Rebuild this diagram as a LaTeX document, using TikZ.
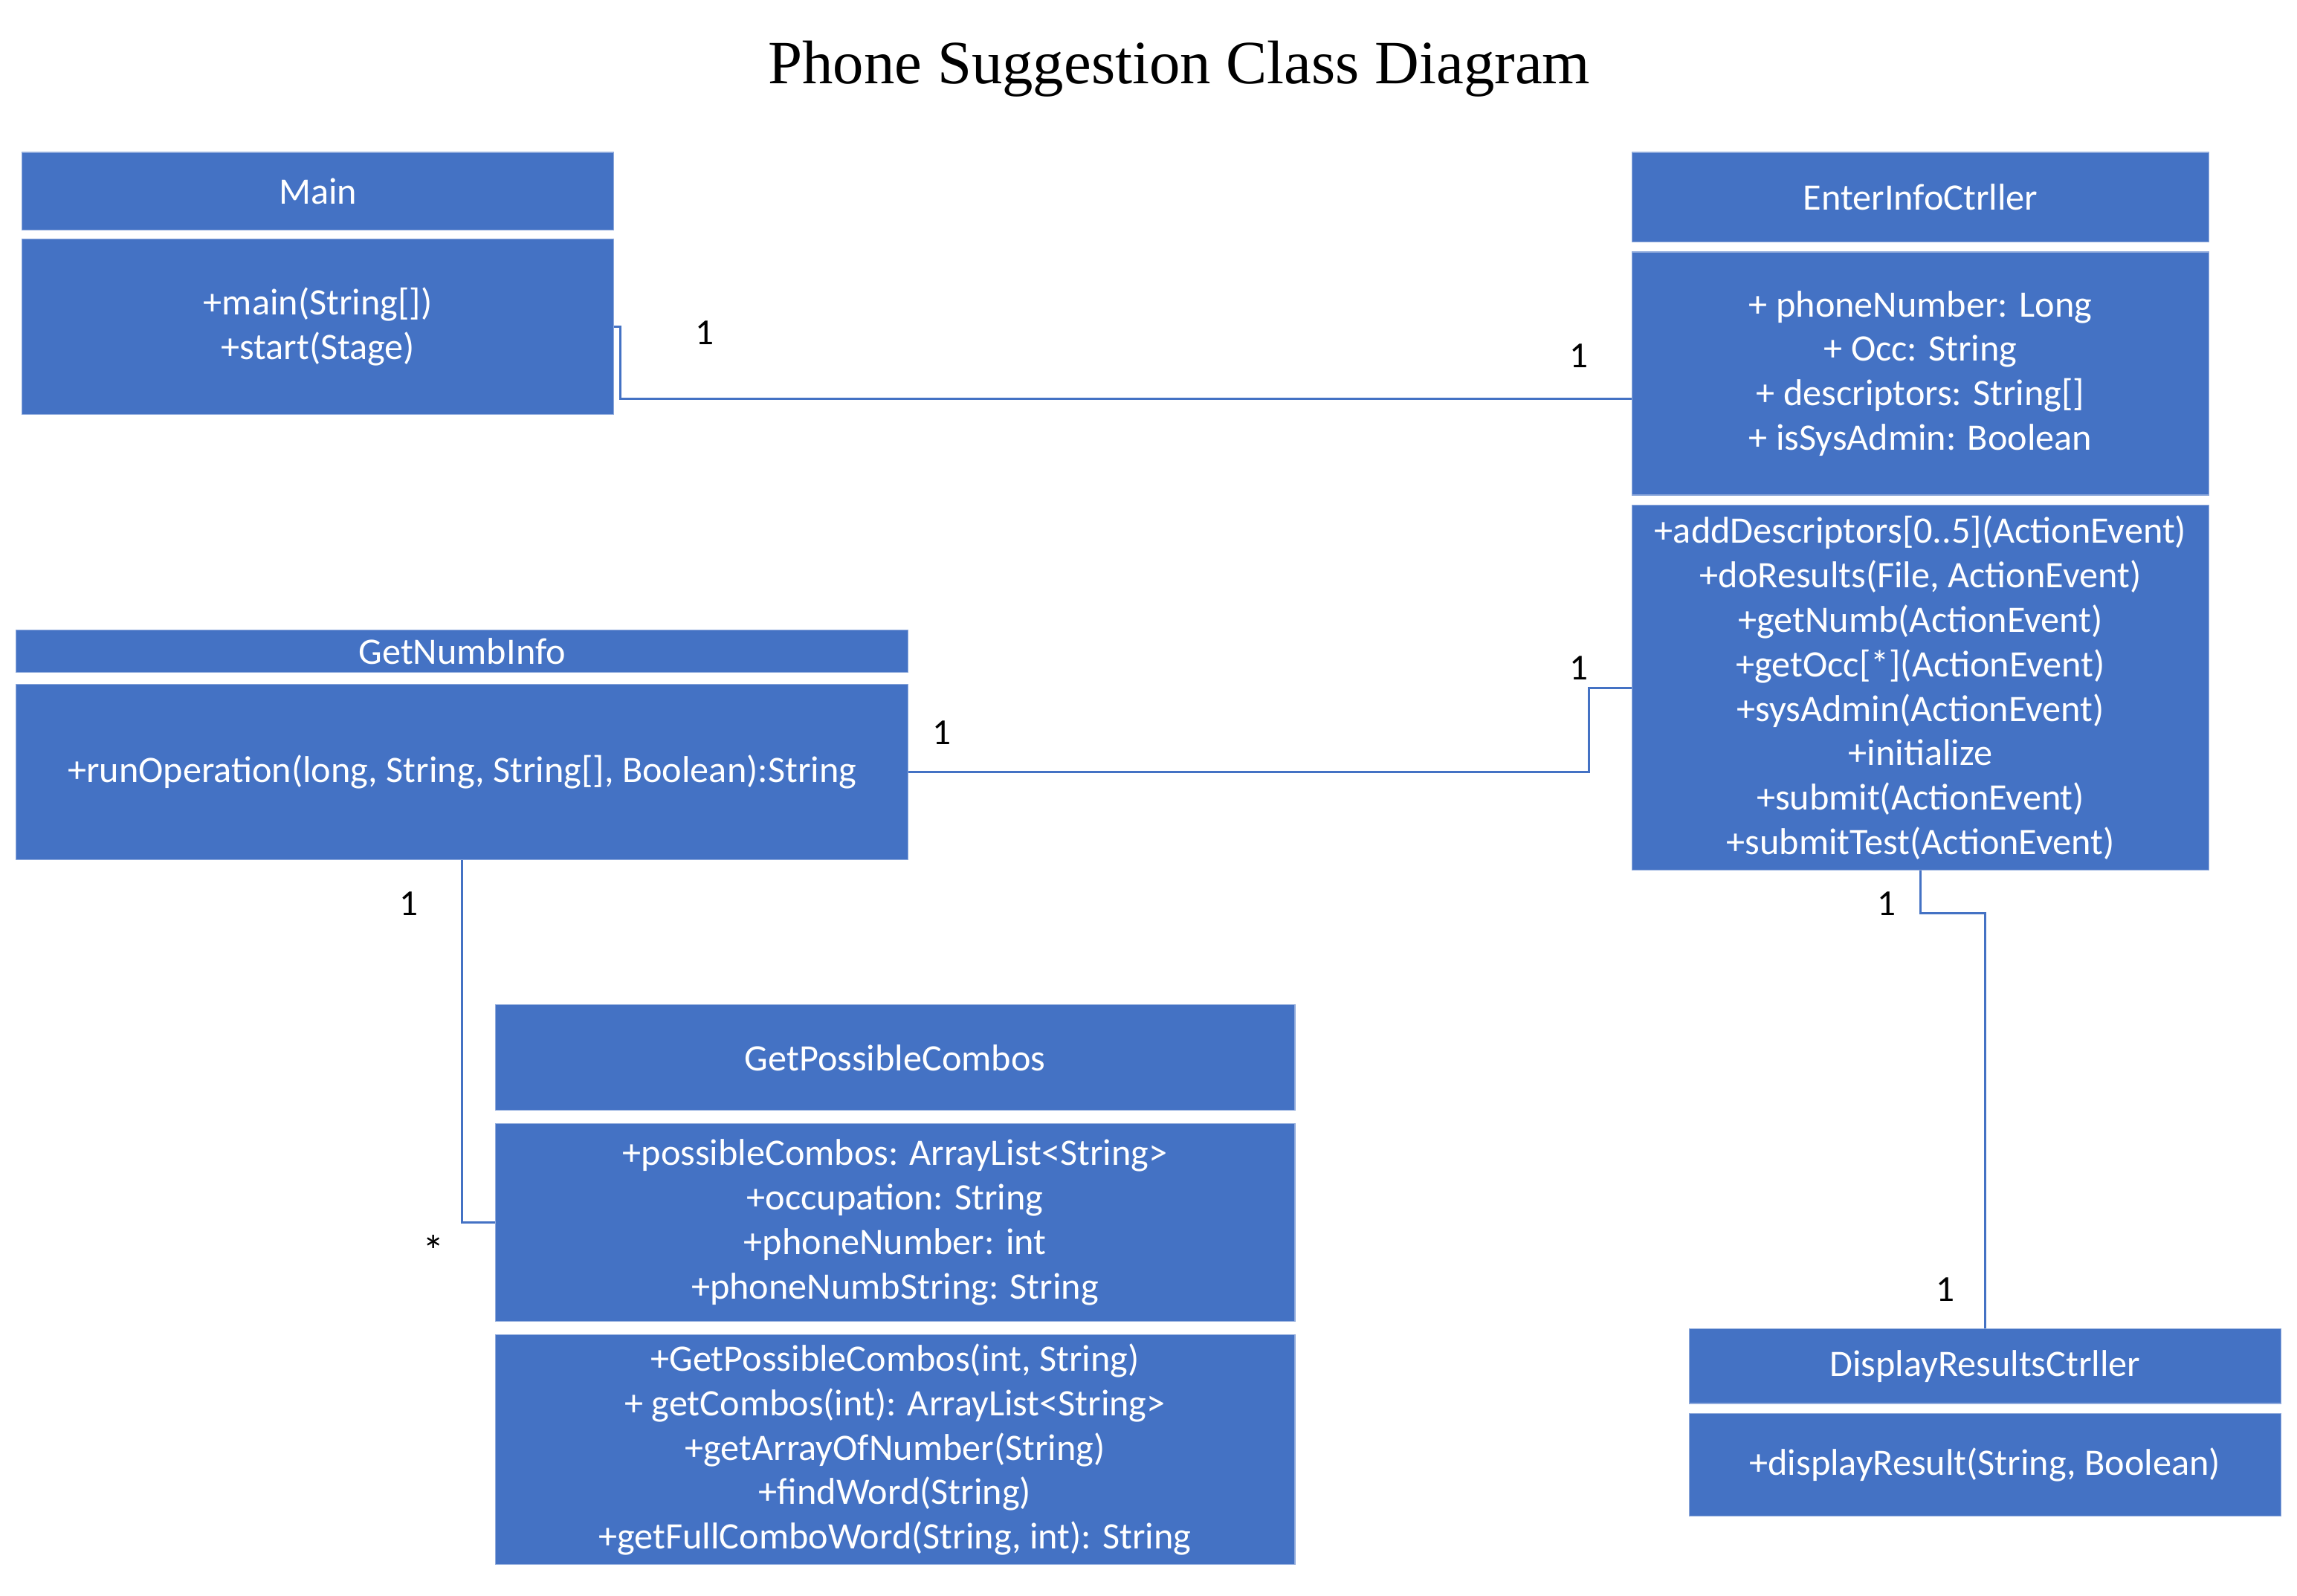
\documentclass[tikz,border=0pt]{standalone}
\usepackage{fontspec}
\setmainfont{Carlito}
\newfontfamily\titlefont{Liberation Serif}
\definecolor{ublue}{HTML}{4472C4}
\definecolor{uedge}{HTML}{8FAADC}
\begin{document}
\begin{tikzpicture}[x=1pt,y=-1pt,
  cls/.style={fill=ublue, draw=uedge, line width=0.6pt, text=white, align=center, inner sep=0pt,
    font={\fontsize{25.5}{30.4}\selectfont}},
  conn/.style={draw=ublue, line width=1.5pt},
  mult/.style={text=black, inner sep=0pt, font={\fontsize{25}{28}\selectfont}}]
\useasboundingbox (0,0) rectangle (1568,1089);
\node[font={\titlefont\fontsize{42}{48}\selectfont}] (title) at (805,47) {Phone Suggestion Class Diagram};
% Main
\node[cls, minimum width=404pt, minimum height=53pt] (mainH) at (217,130.5) {Main};
\node[cls, minimum width=404pt, minimum height=120pt] (mainB) at (217,223) {+main(String[])\\+start(Stage)};
% EnterInfoCtrller
\node[cls, minimum width=394pt, minimum height=61pt] (eicH) at (1311,134.5) {EnterInfoCtrller};
\node[cls, minimum width=394pt, minimum height=166pt] (eicA) at (1311,255) {+ phoneNumber: Long\\+ Occ: String\\+ descriptors: String[]\\+ isSysAdmin: Boolean};
\node[cls, minimum width=394pt, minimum height=249pt] (eicM) at (1311,469.5) {+addDescriptors[0..5](ActionEvent)\\+doResults(File, ActionEvent)\\+getNumb(ActionEvent)\\+getOcc[*](ActionEvent)\\+sysAdmin(ActionEvent)\\+initialize\\+submit(ActionEvent)\\+submitTest(ActionEvent)};
% GetNumbInfo
\node[cls, minimum width=609pt, minimum height=29pt] (gniH) at (315.5,444.5) {GetNumbInfo};
\node[cls, minimum width=609pt, minimum height=120pt] (gniB) at (315.5,527) {+runOperation(long, String, String[], Boolean):String};
% GetPossibleCombos
\node[cls, minimum width=546pt, minimum height=72pt] (gpcH) at (611,722) {GetPossibleCombos};
\node[cls, minimum width=546pt, minimum height=135pt] (gpcA) at (611,834.5) {+possibleCombos: ArrayList<String>\\+occupation: String\\+phoneNumber: int\\+phoneNumbString: String};
\node[cls, minimum width=546pt, minimum height=157pt] (gpcM) at (611,989.5) {+GetPossibleCombos(int, String)\\+ getCombos(int): ArrayList<String>\\+getArrayOfNumber(String)\\+findWord(String)\\+getFullComboWord(String, int): String};
% DisplayResultsCtrller
\node[cls, minimum width=404pt, minimum height=51pt] (drcH) at (1355,932.5) {DisplayResultsCtrller};
\node[cls, minimum width=404pt, minimum height=70pt] (drcB) at (1355,1000) {+displayResult(String, Boolean)};
% connectors
\draw[conn] (mainB.east) -- ++(4,0) |- ([yshift=-17pt]eicA.west);
\draw[conn] (gniB.east) -| ([xshift=-29pt]eicM.west) -- (eicM.west);
\draw[conn] (gniB.south) |- (gpcA.west);
\draw[conn] (eicM.south) -- ++(0,29) -| (drcH.north);
% multiplicities
\node[mult] (m1) at (481,227) {1};
\node[mult] (m2) at (1078,243) {1};
\node[mult] (m3) at (643,500) {1};
\node[mult] (m4) at (1078,456) {1};
\node[mult] (m5) at (279,617) {1};
\node[mult, font={\fontsize{30}{30}\selectfont}] (m6) at (296,854) {*};
\node[mult] (m7) at (1288,617) {1};
\node[mult] (m8) at (1328,880) {1};
\end{tikzpicture}
\end{document}
